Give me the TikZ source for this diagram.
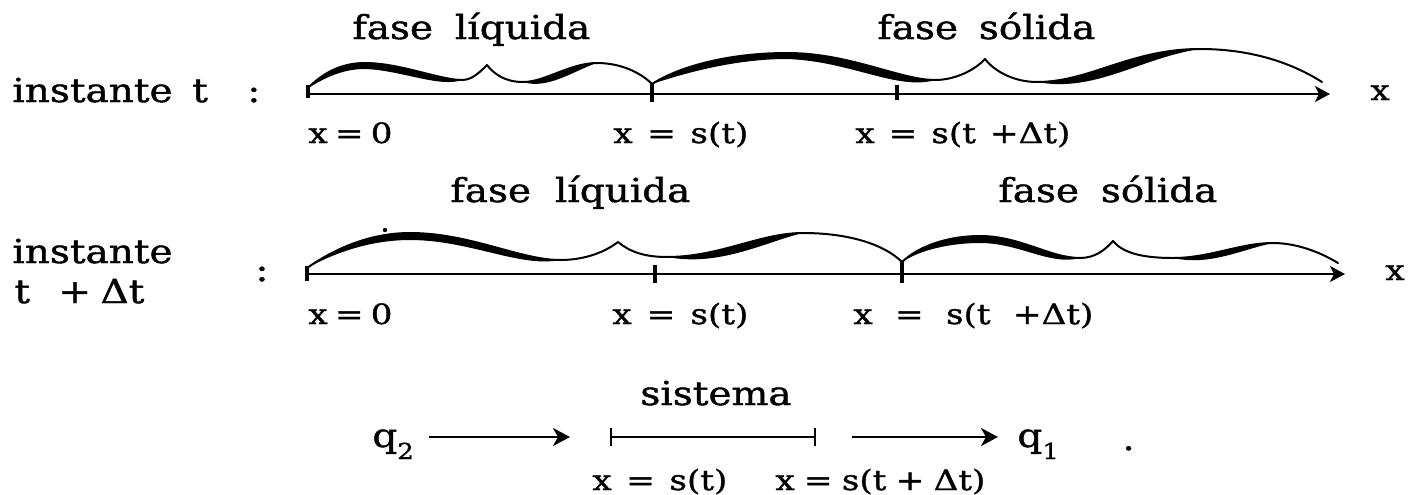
\documentclass[tikz,border=0pt]{standalone}
\usepackage{fontspec}
\setmainfont{DejaVu Serif}
\newfontfamily\tfont[FakeStretch=1.18,FakeBold=1.2]{DejaVu Serif}
\newfontfamily\lfont[FakeStretch=1.22,FakeBold=1.2]{DejaVu Serif}
\usetikzlibrary{arrows.meta}
\begin{document}
\begin{tikzpicture}[x=0.5pt,y=-0.5pt,
  txt/.style={inner sep=0pt, anchor=base west, font=\tfont\fontsize{16.5}{20}\selectfont},
  lab/.style={inner sep=0pt, anchor=base west, font=\lfont\fontsize{14}{16}\selectfont},
  axisline/.style={line width=1pt, -{Stealth[length=7.5pt,width=8pt,inset=2pt]}},
  flow/.style={line width=1.3pt, -{Stealth[length=8.5pt,width=9pt,inset=2.5pt]}},
  wave/.style={line width=1pt, line join=round, line cap=round},
  swell/.style={fill=black},
  tickmark/.style={line width=1.7pt},
  barmark/.style={line width=1.2pt},
]
\useasboundingbox (0,0) rectangle (1410,494);

% ---------------- row 1 : instante t ----------------
\node[txt] (inst1) at (12,102) {\hbox to 124pt{instante\hspace{0pt plus 1fil}t\hspace{0pt plus 2fil}:}};
\node[txt] (liq1) at (352,39) {\makebox[119pt][s]{fase líquida}};
\node[txt] (sol1) at (877,39) {\makebox[109pt][s]{fase sólida}};
\node[lab] (xa1) at (308,143) {\makebox[40pt][s]{x = 0}};
\node[lab] (xb1) at (613,143) {\makebox[67.5pt][s]{x = s(t)}};
\node[lab] (xc1) at (855,143) {\makebox[107.5pt][s]{x = s(t +Δt)}};
\node[lab] (xax1) at (1370,100) {x};

\coordinate (o1) at (308,94);
\coordinate (e1) at (1330,94);
\draw[axisline] (o1) -- (e1);
\draw[tickmark] (308,85) -- (308,98);
\draw[tickmark] (652,84) -- (652,102);
\draw[tickmark] (897,85) -- (897,100);

% brace liquid phase, row 1
\draw[wave] (308,88) .. controls (322,74) and (340,63) .. (365,63)
  .. controls (400,63) and (440,80) .. (462,80)
  .. controls (472,80) and (480,72) .. (487,65)
  .. controls (494,74) and (505,82) .. (523,82)
  .. controls (545,82) and (570,63) .. (597,63)
  .. controls (620,63) and (640,72) .. (652,84);
\fill[swell] (308,88) .. controls (322,74) and (340,63) .. (365,63)
  .. controls (400,63) and (440,80) .. (462,80)
  .. controls (440,88) and (400,70) .. (365,69)
  .. controls (342,69) and (325,78) .. (308,88) -- cycle;
\fill[swell] (523,82) .. controls (545,82) and (570,63) .. (597,63)
  .. controls (575,70) and (548,90) .. (523,82) -- cycle;

% brace solid phase, row 1
\draw[wave] (652,84) .. controls (680,66) and (730,53) .. (787,53)
  .. controls (850,53) and (900,80) .. (935,80)
  .. controls (955,80) and (975,70) .. (985,59)
  .. controls (995,72) and (1015,82) .. (1037,82)
  .. controls (1090,82) and (1130,49) .. (1200,49)
  .. controls (1260,49) and (1300,68) .. (1322,82);
\fill[swell] (652,84) .. controls (680,66) and (730,53) .. (787,53)
  .. controls (850,53) and (900,80) .. (935,80)
  .. controls (898,91) and (850,61) .. (787,59)
  .. controls (735,59) and (685,73) .. (652,84) -- cycle;
\fill[swell] (1037,82) .. controls (1090,82) and (1130,49) .. (1200,49)
  .. controls (1140,58) and (1095,93) .. (1037,82) -- cycle;

% ---------------- row 2 : instante t + Delta t ----------------
\node[txt] (inst2) at (12,263) {\vtop{\baselineskip=20pt\hbox{instante}\hbox{\hspace{1pt}\hbox to 65pt{t\hspace{0pt plus 3fil}+\hspace{0pt plus 1fil}Δt}}}};
\node[txt] (col2) at (255,281) {:};
\node[txt] (liq2) at (450,202) {\makebox[120pt][s]{fase líquida}};
\node[txt] (sol2) at (998,202) {\makebox[109.5pt][s]{fase sólida}};
\node[lab] (xa2) at (308,324) {\makebox[40pt][s]{x = 0}};
\node[lab] (xb2) at (612,324) {\makebox[68pt][s]{x = s(t)}};
\node[lab] (xc2) at (853,324) {\makebox[120pt][s]{x = s(t +Δt)}};
\node[lab] (xax2) at (1385,280) {x};

\coordinate (o2) at (307,274);
\coordinate (e2) at (1345,274);
\draw[axisline] (o2) -- (e2);
\draw[tickmark] (307,266) -- (307,281);
\draw[tickmark] (655,265) -- (655,283);
\draw[tickmark] (902,262) -- (902,283);
\fill (385,230) circle (2.2);

% brace liquid phase, row 2
\draw[wave] (307,268) .. controls (340,245) and (375,233) .. (410,233)
  .. controls (470,233) and (520,260) .. (560,260)
  .. controls (585,260) and (605,252) .. (618,242)
  .. controls (630,252) and (645,257) .. (667,257)
  .. controls (720,257) and (760,233) .. (803,233)
  .. controls (850,233) and (885,245) .. (902,262);
\fill[swell] (307,268) .. controls (340,245) and (375,233) .. (410,233)
  .. controls (470,233) and (520,260) .. (560,260)
  .. controls (520,268) and (470,240) .. (410,240)
  .. controls (375,240) and (340,250) .. (307,268) -- cycle;
\fill[swell] (667,257) .. controls (720,257) and (760,233) .. (803,233)
  .. controls (765,242) and (720,267) .. (667,257) -- cycle;

% brace solid phase, row 2
\draw[wave] (902,262) .. controls (920,245) and (950,236) .. (980,236)
  .. controls (1020,236) and (1050,258) .. (1080,258)
  .. controls (1095,258) and (1105,250) .. (1113,241)
  .. controls (1122,252) and (1140,258) .. (1173,258)
  .. controls (1210,258) and (1240,243) .. (1273,243)
  .. controls (1300,243) and (1325,255) .. (1338,263);
\fill[swell] (902,262) .. controls (920,245) and (950,236) .. (980,236)
  .. controls (1020,236) and (1050,258) .. (1080,258)
  .. controls (1050,266) and (1020,243) .. (980,243)
  .. controls (950,243) and (920,250) .. (902,262) -- cycle;
\fill[swell] (1173,258) .. controls (1210,258) and (1240,243) .. (1273,243)
  .. controls (1240,250) and (1210,266) .. (1173,258) -- cycle;

% ---------------- row 3 : sistema ----------------
\node[txt] (q2) at (372,447) {q\raisebox{-6pt}{\fontsize{11}{12}\selectfont 2}};
\node[txt] (q1) at (1017,447) {q\raisebox{-6pt}{\fontsize{11}{12}\selectfont 1}};
\node[txt] (dot) at (1122,450) {.};
\node[txt] (sis) at (640,405) {sistema};
\node[lab] (ls) at (592,490) {\makebox[67.5pt][s]{x = s(t)}};
\node[lab] (lsd) at (775,490) {\makebox[105pt][s]{x = s(t + Δt)}};

\coordinate (f1s) at (429,437);
\coordinate (f1e) at (570,437);
\coordinate (il) at (611,437);
\coordinate (ir) at (815,437);
\coordinate (f2s) at (852,437);
\coordinate (f2e) at (998,437);
\draw[flow] (f1s) -- (f1e);
\draw[barmark] (il) -- (ir);
\draw[barmark] ([yshift=4.5pt]il) -- ([yshift=-4.5pt]il);
\draw[barmark] ([yshift=4.5pt]ir) -- ([yshift=-4.5pt]ir);
\draw[flow] (f2s) -- (f2e);
\end{tikzpicture}
\end{document}
